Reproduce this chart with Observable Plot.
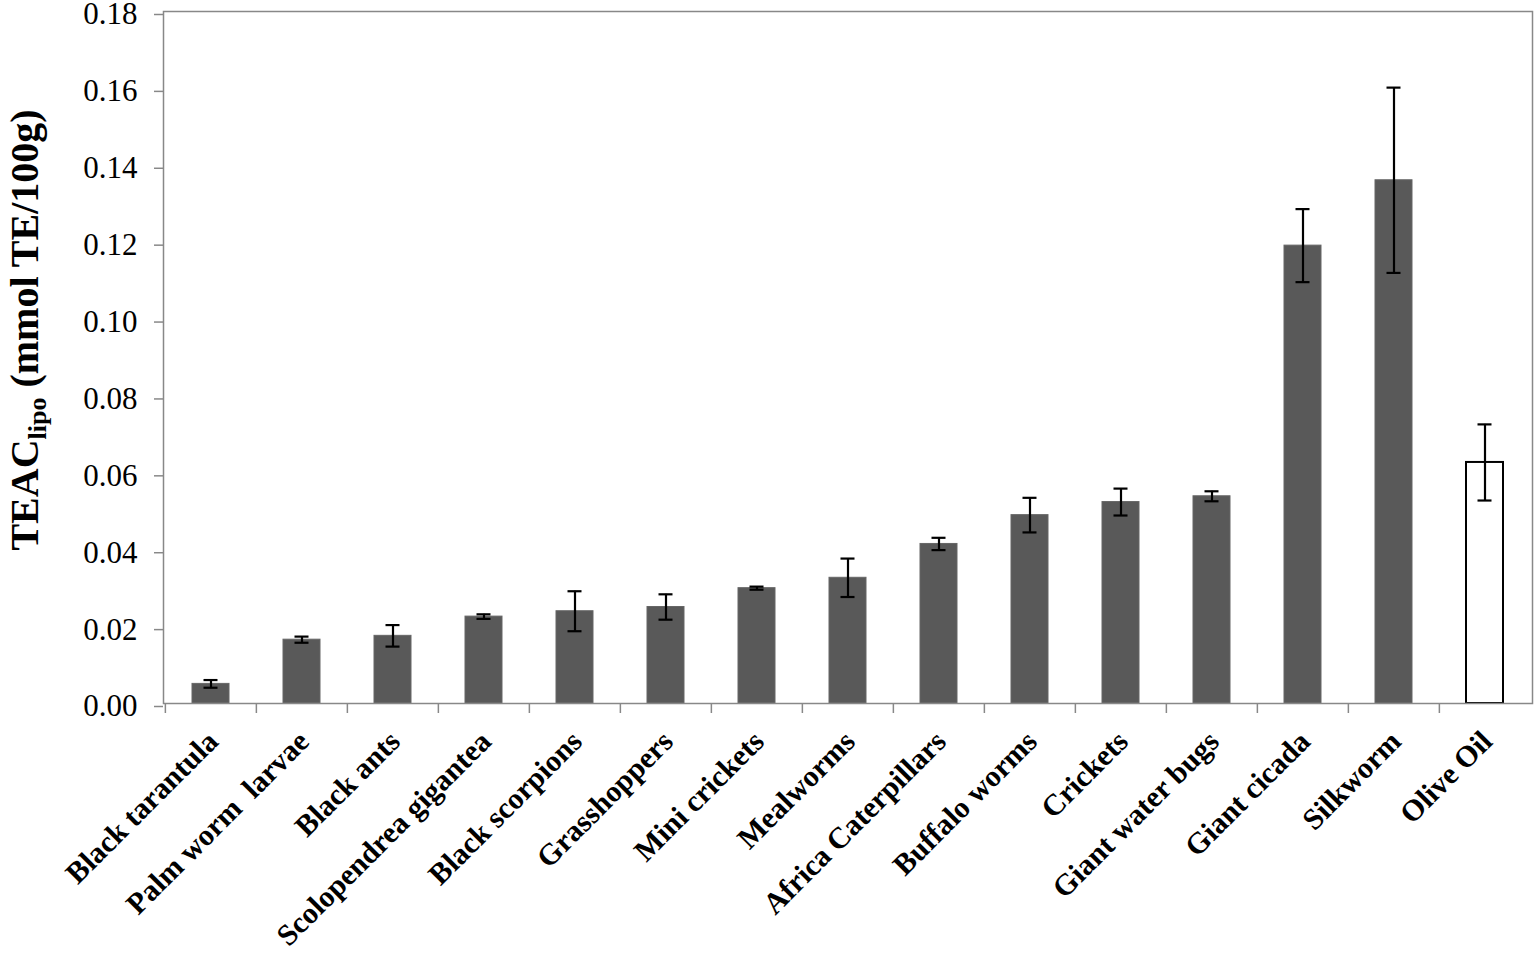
<!DOCTYPE html>
<html><head><meta charset="utf-8">
<script src="https://cdn.jsdelivr.net/npm/d3@7"></script>
<script src="https://cdn.jsdelivr.net/npm/@observablehq/plot@0.6"></script>
<style>body{margin:0;background:#fff}</style>
</head><body><div id="chart"></div>
<script>
const categories = ["Black tarantula","Palm worm  larvae","Black ants","Scolopendrea gigantea","Black scorpions","Grasshoppers","Mini crickets","Mealworms","Africa Caterpillars","Buffalo worms","Crickets","Giant water bugs","Giant cicada","Silkworm","Olive Oil"];
const values = [0.0051,0.0166,0.0176,0.0226,0.0240,0.0251,0.0300,0.0327,0.0415,0.0490,0.0524,0.0539,0.1191,0.1361,0.0627];
const errors = [0.0010,0.0008,0.0028,0.0006,0.0052,0.0033,0.0004,0.0050,0.0016,0.0045,0.0035,0.0013,0.0095,0.0241,0.0099];
const groups = ["insect","insect","insect","insect","insect","insect","insect","insect","insect","insect","insect","insect","insect","insect","reference"];
const yTicks = [0,0.02,0.04,0.06,0.08,0.10,0.12,0.14,0.16,0.18];

const data = categories.map((c,i)=>({category:c, value:values[i], err:errors[i], group:groups[i]}));
const W=1535,H=954,mL=163,mR=3,mT=11,mB=251;
const step=(W-mL-mR)/categories.length;
const font="'Liberation Serif','Times New Roman',serif";

const chart = Plot.plot({
  width:W,height:H,marginLeft:mL,marginRight:mR,marginTop:mT,marginBottom:mB,
  style:{fontFamily:font,background:"white",color:"black"},
  x:{domain:categories,paddingInner:0.595,paddingOuter:0.2975,label:null},
  y:{domain:[0,0.18],label:null},
  marks:[
    Plot.barY(data.filter(d=>d.group==="insect"),{x:"category",y:"value",fill:"#595959",stroke:"#666",strokeWidth:1}),
    Plot.barY(data.filter(d=>d.group==="reference"),{x:"category",y:"value",fill:"white",stroke:"black",strokeWidth:2}),
    Plot.ruleX(data,{x:"category",y1:d=>d.value-d.err,y2:d=>d.value+d.err,stroke:"black",strokeWidth:2.2}),
    Plot.tickY(data,{x:"category",y:d=>d.value+d.err,stroke:"black",strokeWidth:2.2,insetLeft:11.5,insetRight:11.5}),
    Plot.tickY(data,{x:"category",y:d=>d.value-d.err,stroke:"black",strokeWidth:2.2,insetLeft:11.5,insetRight:11.5}),
    Plot.axisY({ticks:yTicks,tickFormat:".2f",tickSize:9,tickPadding:17,dy:3,fontSize:31,stroke:"#888",fill:"black",strokeWidth:1.5,label:null}),
    Plot.axisX({tickSize:10,tickFormat:()=>"",dx:-step/2,stroke:"#888",strokeWidth:1.5,label:null}),
    Plot.axisX({tickSize:0,tickRotate:-45,tickPadding:33,dx:2,fontSize:30,fontWeight:"bold",fill:"black",label:null}),
    Plot.frame({stroke:"#888",strokeWidth:1.5})
  ]
});
document.getElementById("chart").appendChild(chart);

const svg = d3.select(chart);
const t = svg.append("text")
  .attr("transform","translate(38,330) rotate(-90)")
  .attr("text-anchor","middle")
  .style("font-family",font).style("font-weight","bold").style("font-size","40px").attr("fill","black");
t.append("tspan").text("TEAC");
t.append("tspan").attr("dy","8").style("font-size","26px").text("lipo");
t.append("tspan").attr("dy","-8").text(" (mmol TE/100g)");
</script></body></html>
